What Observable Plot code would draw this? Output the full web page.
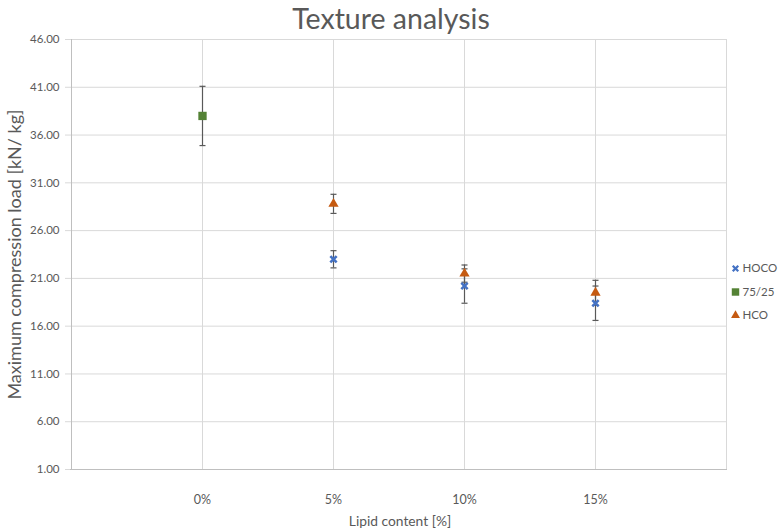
<!DOCTYPE html>
<html><head><meta charset="utf-8">
<script src="https://cdn.jsdelivr.net/npm/d3@7"></script>
<script src="https://cdn.jsdelivr.net/npm/@observablehq/plot@0.6"></script>
<style>body{margin:0;background:#fff}</style>
</head><body><div id="chart"></div>
<script>
const categories = ["0%", "5%", "10%", "15%"];
const seriesNames = ["HOCO", "75/25", "HCO"];
const hocoValues = [null, 23.0, 20.2, 18.4];
const hocoErrors = [null, 0.9, 1.8, 1.8];
const blendValues = [38.0, null, null, null];
const blendErrors = [3.1, null, null, null];
const hcoValues = [null, 28.8, 21.5, 19.5];
const hcoErrors = [null, 1.0, 0.9, 1.3];
const yTicks = [1, 6, 11, 16, 21, 26, 31, 36, 41, 46];
const seriesColors = ["#4472C4", "#548235", "#C55A11"];

const seriesValues = [hocoValues, blendValues, hcoValues];
const seriesErrors = [hocoErrors, blendErrors, hcoErrors];
const rows = [];
seriesNames.forEach((s, si) => {
  categories.forEach((c, ci) => {
    const v = seriesValues[si][ci];
    if (v != null) rows.push({series: s, si, category: c, value: v, lo: v - seriesErrors[si][ci], hi: v + seriesErrors[si][ci]});
  });
});
const caps = rows.flatMap(d => [{category: d.category, y: d.lo, series: d.series}, {category: d.category, y: d.hi, series: d.series}]);

const capSymbol = {draw(ctx, size) { const w = Math.sqrt(size); ctx.moveTo(-w / 2, 0); ctx.lineTo(w / 2, 0); }};
const xSymbol = {draw(ctx, size) {
  const r = Math.sqrt(size) / 2, a = r * 0.45;
  ctx.moveTo(-r, -r + a); ctx.lineTo(-r + a, -r); ctx.lineTo(0, -a); ctx.lineTo(r - a, -r); ctx.lineTo(r, -r + a);
  ctx.lineTo(a, 0); ctx.lineTo(r, r - a); ctx.lineTo(r - a, r); ctx.lineTo(0, a); ctx.lineTo(-r + a, r);
  ctx.lineTo(-r, r - a); ctx.lineTo(-a, 0); ctx.closePath();
}};
const symbols = [xSymbol, "square", "triangle"];
const sizes = [4.6, 4.7, 3.8];
const legendSizes = [4.0, 4.2, 3.3];
const textColor = "#595959";
const font = "Lato, 'Noto Sans', sans-serif";

const xDomain = ["", ...categories, " "];

const marks = [
  Plot.gridY(yTicks, {stroke: "#d9d9d9", strokeOpacity: 1}),
  Plot.ruleX([...categories, " "], {stroke: "#d9d9d9"}),
  Plot.ruleX([""], {stroke: "#bfbfbf"}),
  Plot.ruleY([1], {stroke: "#bfbfbf"}),
  Plot.axisY({ticks: yTicks, tickFormat: d3.format(".2f"), tickSize: 5, tickPadding: 6, stroke: "#d9d9d9", fill: textColor, fontSize: 11.5, label: null}),
  Plot.axisX({ticks: categories, tickSize: 0, tickPadding: 26, fill: textColor, fontSize: 12.5, label: null})
];
seriesNames.forEach((s, si) => {
  const sub = rows.filter(d => d.series === s);
  marks.push(Plot.ruleX(sub, {x: "category", y1: "lo", y2: "hi", stroke: "#595959", strokeWidth: 1.2}));
  marks.push(Plot.dot(caps.filter(d => d.series === s), {x: "category", y: "y", symbol: capSymbol, r: 3.4, fill: "none", stroke: "#595959", strokeWidth: 1.2}));
});
seriesNames.forEach((s, si) => {
  const sub = rows.filter(d => d.series === s);
  marks.push(Plot.dot(sub, {x: "category", y: "value", symbol: symbols[si], r: sizes[si], fill: seriesColors[si], stroke: "none"}));
  marks.push(Plot.dot([s], {frameAnchor: "right", dx: 8, dy: 14 + si * 23.5, symbol: symbols[si], r: legendSizes[si], fill: seriesColors[si]}));
  marks.push(Plot.text([s], {frameAnchor: "right", dx: 15, dy: 14 + si * 23.5, text: d => d, textAnchor: "start", fill: textColor, fontSize: 11.5}));
});
marks.push(Plot.text(["Texture analysis"], {frameAnchor: "top", lineAnchor: "middle", dx: -8, dy: -20, text: d => d, fill: textColor, fontSize: 28.5}));
marks.push(Plot.text(["Maximum compression load [kN/ kg]"], {frameAnchor: "left", textAnchor: "middle", lineAnchor: "middle", dx: -55, text: d => d, rotate: -90, fill: textColor, fontSize: 18}));
marks.push(Plot.text(["Lipid content [%]"], {frameAnchor: "bottom", lineAnchor: "middle", dx: 1, dy: 52, text: d => d, fill: textColor, fontSize: 13.8}));

const chart = Plot.plot({
  width: 778, height: 532,
  marginLeft: 70, marginRight: 51, marginTop: 39, marginBottom: 63,
  style: {fontFamily: font, background: "#fff"},
  x: {type: "point", domain: xDomain, padding: 0},
  y: {domain: [1, 46]},
  marks
});
document.getElementById("chart").appendChild(chart);
</script>
</body></html>
